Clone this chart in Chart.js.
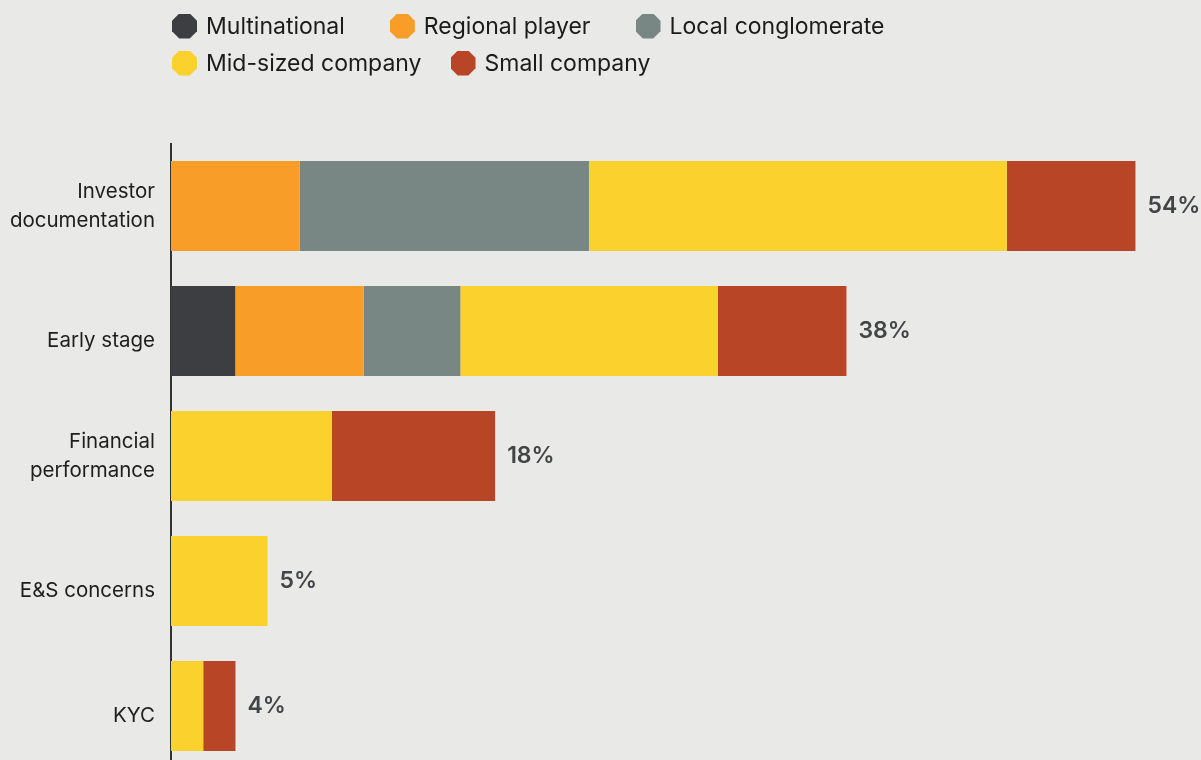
<!DOCTYPE html>
<html>

<head>
	<meta charset="utf-8">
	<style>
		html, body { margin: 0; padding: 0; overflow: hidden; background: #e9e9e7; }
		#wrap { position: relative; width: 1201px; height: 770px; }
		#myChart { display: block; }
		#legend {
			position: absolute; left: 172px; top: 13.5px;
			font-family: Inter, sans-serif; font-size: 23px; color: #1b1b1b;
		}
		.row { display: flex; height: 25px; margin-bottom: 12px; }
		.row.first { column-gap: 45px; }
		.row.second { column-gap: 29px; }
		.item { display: flex; align-items: center; height: 25px; line-height: 25px; white-space: nowrap; }
		.dot {
			width: 25px; height: 25px; margin-right: 9px;
			clip-path: polygon(29% 0, 71% 0, 100% 29%, 100% 71%, 71% 100%, 29% 100%, 0 71%, 0 29%);
		}
	</style>
	<script src="https://cdn.jsdelivr.net/npm/chart.js"></script>
</head>

<body>
	<div id="wrap">
		<div id="legend">
			<div class="row first"></div>
			<div class="row second"></div>
		</div>
		<canvas id="myChart" width="1201" height="770"></canvas>
	</div>

	<script>
		// share of respondents (%) per issue, split by company type
		var categories = [['Investor', 'documentation'], 'Early stage', ['Financial', 'performance'], 'E&S concerns', 'KYC'];
		var multinational = [0, 3.57, 0, 0, 0];
		var regionalPlayer = [7.14, 7.14, 0, 0, 0];
		var localConglomerate = [16.07, 5.36, 0, 0, 0];
		var midSizedCompany = [23.21, 14.3, 8.93, 5.36, 1.79];
		var smallCompany = [7.14, 7.14, 9.07, 0, 1.79];

		var ctx = document.getElementById('myChart').getContext('2d');

		// total at the end of each stacked bar
		var totalLabels = {
			id: 'totalLabels',
			afterDatasetsDraw: function (chart) {
				var c = chart.ctx;
				var xs = chart.scales.x;
				var ys = chart.scales.y;
				c.save();
				c.font = '600 23px Inter';
				c.fillStyle = '#434447';
				c.textBaseline = 'middle';
				categories.forEach(function (cat, i) {
					var total = chart.data.datasets.reduce(function (s, ds) { return s + ds.data[i]; }, 0);
					c.fillText(Math.round(total) + '%', xs.getPixelForValue(total) + 12, ys.getPixelForValue(i));
				});
				c.restore();
			}
		};

		var chart = new Chart(ctx, {
			type: 'bar',
			data: {
				labels: categories,
				datasets: [
					{ label: 'Multinational', data: multinational, backgroundColor: '#3d3e42' },
					{ label: 'Regional player', data: regionalPlayer, backgroundColor: '#f89e28' },
					{ label: 'Local conglomerate', data: localConglomerate, backgroundColor: '#788783' },
					{ label: 'Mid-sized company', data: midSizedCompany, backgroundColor: '#fbd12d' },
					{ label: 'Small company', data: smallCompany, backgroundColor: '#b84526' }
				]
			},
			plugins: [totalLabels],
			options: {
				indexAxis: 'y',
				responsive: false,
				animation: false,
				layout: {
					padding: { top: 143.5, bottom: 1.5, left: 0, right: 0 }
				},
				datasets: {
					bar: { barPercentage: 0.72, categoryPercentage: 1, borderWidth: 0 }
				},
				plugins: {
					legend: { display: false },
					tooltip: { enabled: false }
				},
				scales: {
					x: { stacked: true, min: 0, max: 57.2, display: false },
					y: {
						stacked: true,
						grid: { display: false, drawTicks: false },
						border: { display: true, color: '#333333', width: 2 },
						ticks: {
							autoSkip: false,
							padding: 16,
							color: '#1e1e1e',
							// single-line labels sit a little below the bar centre
							callback: function (value) {
								var lab = this.getLabelForValue(value);
								return Array.isArray(lab) ? lab : ['', lab];
							},
							font: function (c) {
								var two = Array.isArray(categories[c.index]);
								return { family: 'Inter', size: 20.5, lineHeight: two ? 1.4 : 0.98 };
							}
						},
						afterFit: function (scale) {
							scale.width = 171;
							// labels stay inside their bands, no extra room needed
							scale.paddingTop = 0;
							scale.paddingBottom = 0;
						}
					}
				}
			}
		});

		// legend built from the datasets, three items on the first row
		var rows = document.querySelectorAll('#legend .row');
		chart.data.datasets.forEach(function (ds, i) {
			var item = document.createElement('span');
			item.className = 'item';
			var dot = document.createElement('span');
			dot.className = 'dot';
			dot.style.background = ds.backgroundColor;
			item.appendChild(dot);
			item.appendChild(document.createTextNode(ds.label));
			rows[i < 3 ? 0 : 1].appendChild(item);
		});
	</script>
</body>

</html>
